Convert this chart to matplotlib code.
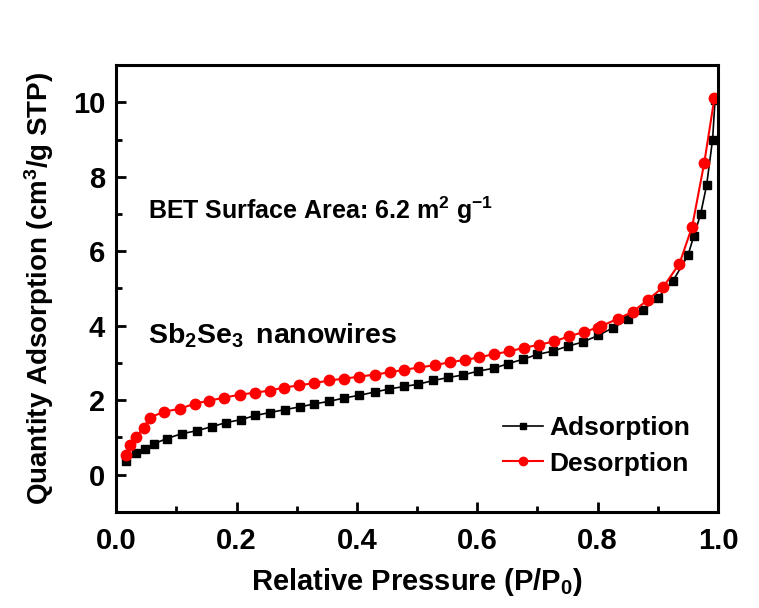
import numpy as np
import matplotlib
matplotlib.use("Agg")
import matplotlib.pyplot as plt
from matplotlib.ticker import MultipleLocator

plt.rcParams['font.family'] = ['Liberation Sans', 'DejaVu Sans']
plt.rcParams['font.weight'] = 'bold'
plt.rcParams['mathtext.fontset'] = 'custom'
plt.rcParams['mathtext.rm'] = 'Liberation Sans:bold'
plt.rcParams['mathtext.it'] = 'Liberation Sans:bold'
plt.rcParams['mathtext.bf'] = 'Liberation Sans:bold'
plt.rcParams['mathtext.default'] = 'rm'

### adsorption branch
p_ads = [0.017, 0.033, 0.048, 0.063, 0.084, 0.109, 0.134, 0.159, 0.183, 0.208,
         0.231, 0.256, 0.281, 0.305, 0.329, 0.354, 0.379, 0.403, 0.430, 0.453,
         0.479, 0.502, 0.527, 0.552, 0.577, 0.601, 0.628, 0.651, 0.676, 0.700,
         0.726, 0.750, 0.775, 0.801, 0.825, 0.850, 0.875, 0.900, 0.925, 0.950,
         0.960, 0.971, 0.981, 0.991, 0.995]
q_ads = [0.38, 0.59, 0.70, 0.83, 0.97, 1.10, 1.18, 1.29, 1.40, 1.48,
         1.59, 1.67, 1.75, 1.82, 1.90, 1.97, 2.06, 2.13, 2.22, 2.30,
         2.37, 2.43, 2.53, 2.61, 2.68, 2.78, 2.86, 2.98, 3.10, 3.23,
         3.32, 3.45, 3.56, 3.74, 3.94, 4.17, 4.42, 4.75, 5.20, 5.89,
         6.42, 6.99, 7.77, 9.00, 10.05]

### desorption branch
p_des = [0.017, 0.023, 0.033, 0.046, 0.056, 0.079, 0.106, 0.131, 0.155, 0.180,
         0.205, 0.230, 0.255, 0.279, 0.304, 0.329, 0.354, 0.379, 0.403, 0.430,
         0.455, 0.479, 0.504, 0.529, 0.554, 0.579, 0.603, 0.628, 0.653, 0.678,
         0.703, 0.728, 0.753, 0.777, 0.800, 0.806, 0.834, 0.858, 0.883, 0.909,
         0.936, 0.957, 0.977, 0.994]
q_des = [0.54, 0.81, 1.02, 1.26, 1.53, 1.69, 1.77, 1.91, 1.99, 2.07,
         2.15, 2.20, 2.26, 2.34, 2.40, 2.46, 2.53, 2.58, 2.63, 2.69,
         2.75, 2.82, 2.88, 2.94, 3.02, 3.08, 3.15, 3.24, 3.31, 3.41,
         3.49, 3.58, 3.72, 3.83, 3.95, 3.99, 4.19, 4.37, 4.69, 5.04,
         5.67, 6.66, 8.36, 10.11]

fig = plt.figure(figsize=(7.59, 6.08), dpi=100)
ax = fig.add_axes([0.153, 0.158, 0.793, 0.735])

ax.plot(p_ads, q_ads, color="black", marker="s", markersize=6, linewidth=1.2,
        label="Adsorption")
ax.plot(p_des, q_des, color="red", marker="o", markersize=7.5, linewidth=1.5,
        label="Desorption")

ax.set_xlim(0, 1.0)
ax.set_ylim(-1, 11)
ax.xaxis.set_major_locator(MultipleLocator(0.2))
ax.xaxis.set_minor_locator(MultipleLocator(0.1))
ax.yaxis.set_major_locator(MultipleLocator(2))
ax.yaxis.set_minor_locator(MultipleLocator(1))
ax.tick_params(which="both", direction="in", top=False, right=False, width=2)
ax.tick_params(which="major", length=7, labelsize=21)
ax.tick_params(axis="x", which="major", pad=11)
ax.tick_params(axis="y", which="major", pad=8)
ax.tick_params(which="minor", length=4)
for s in ax.spines.values():
    s.set_linewidth(2.2)

ax.set_xlabel("Relative Pressure (P/P$_0$)", fontsize=21, fontweight="bold", labelpad=8)
ax.set_ylabel("Quantity Adsorption (cm$^3$/g STP)", fontsize=20, fontweight="bold", labelpad=12)

ax.text(0.053, 7.1, "BET Surface Area: 6.2 m$^2$ g$^{-1}$", fontsize=18,
        fontweight="bold", va="center")
ax.text(0.053, 3.72, "Sb$_2$Se$_3\\,$ nanowires", fontsize=20.5,
        fontweight="bold", va="center")

ax.legend(loc="upper left", bbox_to_anchor=(0.643, 0.215), frameon=False,
          fontsize=19, handlelength=1.5, handletextpad=0.25, labelspacing=0.45,
          borderpad=0, borderaxespad=0, markerscale=0.8)

fig.savefig("out.png", dpi=100)
